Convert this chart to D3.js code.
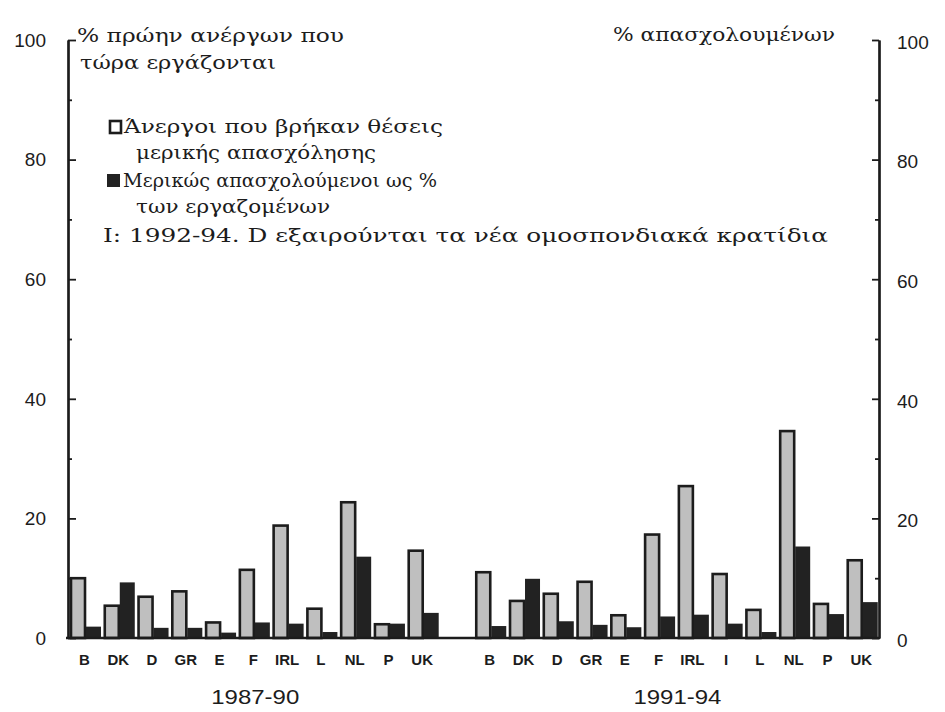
<!DOCTYPE html>
<html>
<head>
<meta charset="utf-8">
<script src="https://cdn.jsdelivr.net/npm/d3@7"></script>
<style>
  body { margin: 0; background: #fff; }
  svg { display: block; }
</style>
</head>
<body>
<svg id="chart" width="945" height="712"></svg>
<script>
// Part-time work: unemployed who found part-time jobs (% of formerly unemployed now working)
// and part-time workers as % of employed, by member state, two periods.
const countries8790 = ["B", "DK", "D", "GR", "E", "F", "IRL", "L", "NL", "P", "UK"];
const found8790     = [10.0, 5.4, 6.9, 7.8, 2.6, 11.4, 18.8, 4.9, 22.7, 2.3, 14.6];
const share8790     = [1.9, 9.3, 1.7, 1.7, 0.9, 2.6, 2.4, 1.0, 13.6, 2.4, 4.2];

const countries9194 = ["B", "DK", "D", "GR", "E", "F", "IRL", "I", "L", "NL", "P", "UK"];
const found9194     = [11.0, 6.2, 7.4, 9.4, 3.8, 17.3, 25.4, 10.7, 4.7, 34.6, 5.7, 13.0];
const share9194     = [2.0, 9.9, 2.8, 2.2, 1.8, 3.6, 3.9, 2.4, 1.0, 15.3, 4.0, 6.0];

const periods = ["1987-90", "1991-94"];
const majorTicks = [0, 20, 40, 60, 80, 100];
const minorTicks = [10, 30, 50, 70, 90];

const leftTitle = ["% πρώην ανέργων που", "τώρα εργάζονται"];
const rightTitle = "% απασχολουμένων";
const legendFound = ["Άνεργοι που βρήκαν θέσεις", "μερικής απασχόλησης"];
const legendShare = ["Μερικώς απασχολούμενοι ως %", "των εργαζομένων"];
const note = "I: 1992-94. D εξαιρούνται τα νέα ομοσπονδιακά κρατίδια";

const svg = d3.select("#chart");
const ink = "#1c1c1c";
const serif = "'DejaVu Serif', 'Liberation Serif', serif";
const sans = "'Liberation Sans', Arial, sans-serif";

// one band per country slot, with an empty slot separating the two periods
const rows = [];
countries8790.forEach((c, i) => rows.push({ key: periods[0] + "|" + c, country: c, period: periods[0], found: found8790[i], share: share8790[i] }));
countries9194.forEach((c, i) => rows.push({ key: periods[1] + "|" + c, country: c, period: periods[1], found: found9194[i], share: share9194[i] }));
const n1 = countries8790.length;
const slots = [...rows.slice(0, n1).map(d => d.key), "gap", ...rows.slice(n1).map(d => d.key)];

const x = d3.scaleBand().domain(slots).range([69.5, 880]).padding(0);
const y = d3.scaleLinear().domain([0, 100]).range([638, 40]);
const barW = 15;

// bars: outlined light bar (left axis) and solid dark bar (right axis)
const g = svg.append("g");
g.selectAll("rect.found").data(rows).join("rect")
  .attr("class", "found")
  .attr("x", d => x(d.key) + 1.5)
  .attr("y", d => y(d.found))
  .attr("width", barW - 1)
  .attr("height", d => y(0) - y(d.found))
  .attr("fill", "#bfbfbf")
  .attr("stroke", ink)
  .attr("stroke-width", 2.6);

g.selectAll("rect.share").data(rows).join("rect")
  .attr("class", "share")
  .attr("x", d => x(d.key) + 1.5 + barW)
  .attr("y", d => y(d.share))
  .attr("width", barW)
  .attr("height", d => y(0) - y(d.share))
  .attr("fill", "#222");

// baseline
svg.append("line")
  .attr("x1", 66).attr("x2", 880)
  .attr("y1", y(0)).attr("y2", y(0))
  .attr("stroke", ink).attr("stroke-width", 2.5);

// axes on both sides, ticks pointing inward
function styleAxis(sel) {
  sel.selectAll("path.domain").attr("stroke", ink).attr("stroke-width", 2.2);
  sel.selectAll(".tick line").attr("stroke", ink).attr("stroke-width", 1.8);
  sel.selectAll(".tick text").remove();
}
const leftX = 68, rightX = 879;
svg.append("g").attr("transform", `translate(${leftX},0)`)
  .call(d3.axisRight(y).tickValues(majorTicks).tickSize(8).tickSizeOuter(0))
  .call(styleAxis);
svg.append("g").attr("transform", `translate(${leftX},0)`)
  .call(d3.axisRight(y).tickValues(minorTicks).tickSize(4).tickSizeOuter(0))
  .call(styleAxis);
svg.append("g").attr("transform", `translate(${rightX},0)`)
  .call(d3.axisLeft(y).tickValues(majorTicks).tickSize(7).tickSizeOuter(0))
  .call(styleAxis);
svg.append("g").attr("transform", `translate(${rightX},0)`)
  .call(d3.axisLeft(y).tickValues(minorTicks).tickSize(4).tickSizeOuter(0))
  .call(styleAxis);

// tick labels on both sides
svg.append("g").selectAll("text").data(majorTicks).join("text")
  .attr("x", 46).attr("y", d => y(d)).attr("dy", "0.36em")
  .attr("text-anchor", "end")
  .attr("font-family", sans).attr("font-size", 19).attr("fill", ink)
  .text(d => d);
svg.append("g").selectAll("text").data(majorTicks).join("text")
  .attr("x", 897).attr("y", d => y(d) + 2).attr("dy", "0.36em")
  .attr("text-anchor", "start")
  .attr("font-family", sans).attr("font-size", 19).attr("fill", ink)
  .text(d => d);

// country labels under each pair
svg.append("g").selectAll("text").data(rows).join("text")
  .attr("x", d => x(d.key) + 15)
  .attr("y", 665)
  .attr("text-anchor", "middle")
  .attr("font-family", sans).attr("font-size", 15).attr("font-weight", 600)
  .attr("fill", ink)
  .text(d => d.country);

// period labels centred under each group
periods.forEach(p => {
  const keys = rows.filter(d => d.period === p).map(d => d.key);
  const cx = (x(keys[0]) + x(keys[keys.length - 1]) + x.bandwidth()) / 2;
  svg.append("text")
    .attr("x", cx - 44).attr("y", 704)
    .attr("font-family", sans).attr("font-size", 20).attr("fill", ink)
    .attr("textLength", 88).attr("lengthAdjust", "spacingAndGlyphs")
    .text(p);
});

// serif annotations, stretched to their set widths
function label(str, x0, y0, len) {
  svg.append("text")
    .attr("x", x0).attr("y", y0)
    .attr("font-family", serif).attr("font-size", 18)
    .attr("fill", ink)
    .attr("textLength", len).attr("lengthAdjust", "spacingAndGlyphs")
    .text(str);
}
label(leftTitle[0], 77, 42, 267);
label(leftTitle[1], 80, 69, 196);
label(rightTitle, 613, 41, 222);

// legend
svg.append("rect").attr("x", 110).attr("y", 121).attr("width", 11).attr("height", 12)
  .attr("fill", "#fff").attr("stroke", ink).attr("stroke-width", 2.6);
label(legendFound[0], 124, 133, 319);
label(legendFound[1], 136, 159, 240);
svg.append("rect").attr("x", 107).attr("y", 174).attr("width", 13).attr("height", 13)
  .attr("fill", "#222");
label(legendShare[0], 123, 187, 314);
label(legendShare[1], 136, 213, 194);
label(note, 103, 242, 725);
</script>
</body>
</html>
